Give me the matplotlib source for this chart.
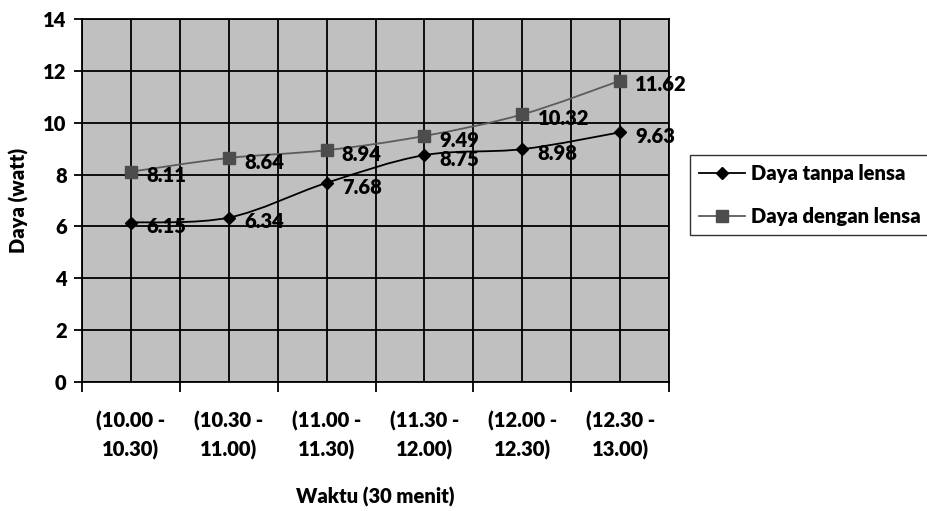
import matplotlib
matplotlib.use("Agg")
import matplotlib.pyplot as plt
from matplotlib.path import Path
from matplotlib.patches import PathPatch
from matplotlib.lines import Line2D
import numpy as np

plt.rcParams['font.family'] = ['Lato', 'DejaVu Sans']
W = 'heavy'
FS = 14.5

categories = ["(10.00 -\n10.30)", "(10.30 -\n11.00)", "(11.00 -\n11.30)",
              "(11.30 -\n12.00)", "(12.00 -\n12.30)", "(12.30 -\n13.00)"]
tanpa_lensa = [6.15, 6.34, 7.68, 8.75, 8.98, 9.63]
dengan_lensa = [8.11, 8.64, 8.94, 9.49, 10.32, 11.62]
series_names = ["Daya tanpa lensa", "Daya dengan lensa"]
y_ticks = [0, 2, 4, 6, 8, 10, 12, 14]

fig = plt.figure(figsize=(9.28, 5.11), dpi=100)
ax = fig.add_axes([82/928, 1-382/511, (669-82)/928, (382-19)/511])
ax.set_facecolor('#c0c0c0')

n = len(categories)
x = np.arange(n)
ax.set_xlim(-0.5, n-0.5)
ax.set_ylim(0, 14)


def smooth_path(xs, ys):
    pts = np.column_stack([xs, ys]).astype(float)
    verts = [pts[0]]
    codes = [Path.MOVETO]
    for i in range(len(pts)-1):
        p0 = pts[i-1] if i > 0 else pts[i]
        p1 = pts[i]
        p2 = pts[i+1]
        p3 = pts[i+2] if i+2 < len(pts) else pts[i+1]
        c1 = p1 + (p2 - p0)/6.0
        c2 = p2 - (p3 - p1)/6.0
        verts += [c1, c2, p2]
        codes += [Path.CURVE4]*3
    return Path(verts, codes)


colors = ['#000000', '#4d4d4d']
line_colors = ['#000000', '#5c5c5c']
markers = ['D', 's']
msizes = [6, 8]
data = [tanpa_lensa, dengan_lensa]
handles = []
for vals, c, lc, m, ms, name in zip(data, colors, line_colors, markers, msizes, series_names):
    patch = PathPatch(smooth_path(x, vals), facecolor='none', edgecolor=lc,
                      lw=1.3, transform=ax.transData, zorder=3)
    ax.add_patch(patch)
    ax.plot(x, vals, linestyle='none', marker=m, markersize=ms, color=c, zorder=4)
    for xi, v in zip(x, vals):
        ax.annotate(f"{v:.2f}", (xi, v), xytext=(11, -3), textcoords='offset points',
                    ha='left', va='center', fontsize=FS, fontweight=W, zorder=5)
    handles.append(Line2D([0], [0], color=lc, lw=1.3, marker=m, markersize=ms,
                          markerfacecolor=c, markeredgecolor=c, label=name))

# grid: major at category boundaries, minor at centres
ax.set_xticks(np.arange(-0.5, n, 1.0))
ax.set_xticklabels([])
ax.set_xticks(x, minor=True)
ax.set_xticklabels(categories, minor=True, fontsize=FS, fontweight=W, linespacing=1.55)
ax.tick_params(axis='x', which='major', direction='out', length=7, width=1.3, color='black')
ax.tick_params(axis='x', which='minor', length=0, pad=21)
ax.set_yticks(y_ticks)
ax.set_yticklabels([str(t) for t in y_ticks], fontsize=FS, fontweight=W)
ax.tick_params(axis='y', direction='out', length=6, width=1.3, pad=5)

ax.grid(True, which='major', color='black', lw=1.3)
ax.grid(True, which='minor', axis='x', color='black', lw=1.3)
ax.set_axisbelow(True)
for s in ax.spines.values():
    s.set_color('black')
    s.set_linewidth(1.3)

ax.set_ylabel("Daya (watt)", fontsize=FS, fontweight=W, labelpad=10)
ax.set_xlabel("Waktu (30 menit)", fontsize=FS, fontweight=W, labelpad=19)

leg = fig.legend(handles=handles, loc='upper left', bbox_to_anchor=(690/928, 1-155/511),
                 frameon=True, fancybox=False, edgecolor='black',
                 handlelength=2.3, handletextpad=0.3, borderpad=0.45, labelspacing=1.2,
                 borderaxespad=0, prop={'weight': W, 'size': FS})
leg.get_frame().set_linewidth(1.0)

fig.savefig("out.png", dpi=100)
